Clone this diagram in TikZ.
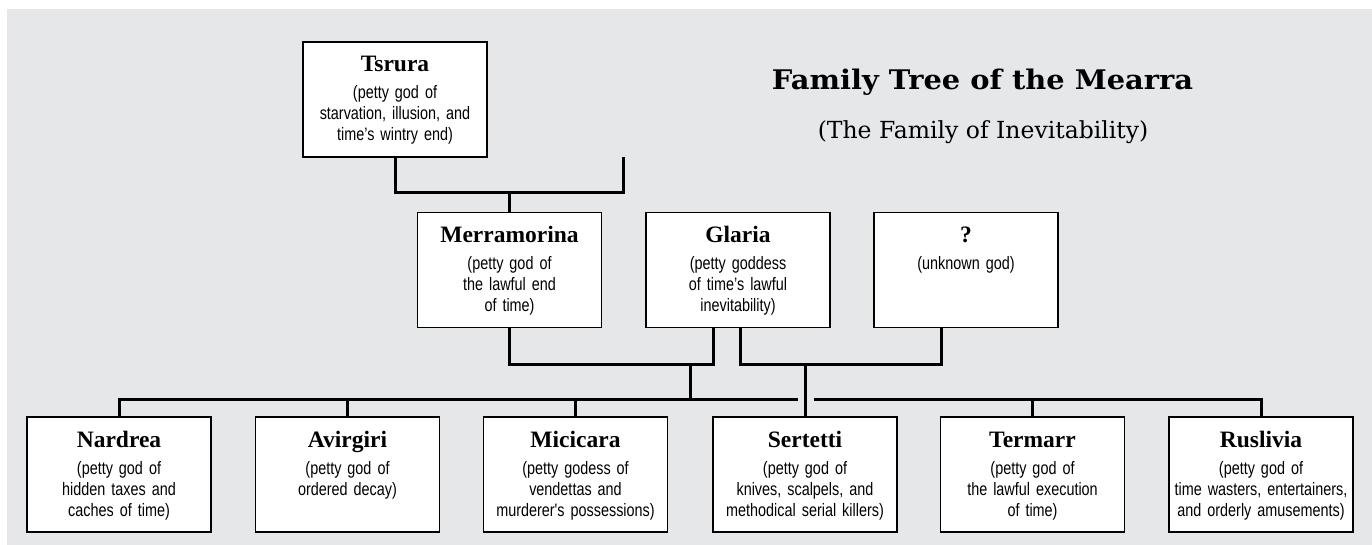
\documentclass[tikz,border=0pt]{standalone}
\usepackage{fontspec}
\setmainfont{Liberation Serif}
\newfontfamily\descfam{Liberation Sans}[FakeStretch=0.8]
\newfontfamily\titlefam{DejaVu Serif}[FakeStretch=1.07]
\newfontfamily\subtitlefam{DejaVu Serif}
\usetikzlibrary{positioning}
\definecolor{treegrey}{HTML}{E6E7E9}
\newcommand{\godname}[1]{{\rmfamily\bfseries\fontsize{23.5}{27}\selectfont #1}}

\begin{document}
\begin{tikzpicture}[x=1pt, y=-1pt,
    god/.style={draw, line width=1.8pt, fill=white, text width=178pt, align=center, minimum width=184pt, minimum height=115pt, inner xsep=3pt, inner ysep=4pt, text height=26pt, text depth=81pt, font=\descfam\fontsize{18}{21}\selectfont},
    link/.style={line width=3pt}]
  \useasboundingbox (0,0) rectangle (1372,545);
  \fill[treegrey] (7,9) rectangle (1372,545);
  \node[anchor=base, font=\titlefam\bfseries\fontsize{27}{30}\selectfont] (title) at (982.5,90) {Family Tree of the Mearra};
  \node[anchor=base, font=\subtitlefam\fontsize{23.5}{28}\selectfont] (subtitle) at (983,139) {(The Family of Inevitability)};
  % parents
  \node[god] (ts)  at (395,99.5) {\godname{Tsrura}\\[6pt](petty god of\\starvation, illusion, and\\time’s wintry end)};
  \node[god] (mer) at (509.5,270) {\godname{Merramorina}\\[6pt](petty god of\\the lawful end\\of time)};
  \node[god] (gl)  at (738,270)   {\godname{Glaria}\\[6pt](petty goddess\\of time’s lawful\\inevitability)};
  \node[god] (unk) at (966,270)   {\godname{?}\\[6pt](unknown god)};
  % children
  \node[god] (nar) at (119,474.5)  {\godname{Nardrea}\\[6pt](petty god of\\hidden taxes and\\caches of time)};
  \node[god] (avi) at (347.5,474.5) {\godname{Avirgiri}\\[6pt](petty god of\\ordered decay)};
  \node[god] (mic) at (575.5,474.5) {\godname{Micicara}\\[6pt](petty godess of\\vendettas and\\murderer's possessions)};
  \node[god] (ser) at (805,474.5)   {\godname{Sertetti}\\[6pt](petty god of\\knives, scalpels, and\\methodical serial killers)};
  \node[god] (ter) at (1032.5,474.5) {\godname{Termarr}\\[6pt](petty god of\\the lawful execution\\of time)};
  \node[god] (rus) at (1261,474.5)  {\godname{Ruslivia}\\[6pt](petty god of\\time wasters, entertainers,\\and orderly amusements)};
  \coordinate (tsp) at (623,157);
  \coordinate (tsbar) at (623,193);
  \coordinate (mgbar) at (690,364);
  \coordinate (gubar) at (805,364);
  \coordinate (gapL) at (798,399);
  \coordinate (gapR) at (814,399);
  \draw[link] (ts.south) |- (tsbar) -- (tsp);
  \draw[link] (mer.north) -- (mer.north |- tsbar);
  \draw[link] (mer.south) |- (mgbar) -| ([xshift=-25pt]gl.south);
  \draw[link] (mgbar) -- (mgbar |- gapL);
  \draw[link] ([xshift=2pt]gl.south) |- (gubar) -| ([xshift=-25pt]unk.south);
  \draw[link] (gubar) -- (ser.north);
  \draw[link] (nar.north) |- (gapL);
  \draw[link] (gapR) -| (rus.north);
  \foreach \k in {avi, mic, ter} { \draw[link] (\k.north) -- (\k.north |- gapL); }
\end{tikzpicture}
\end{document}
